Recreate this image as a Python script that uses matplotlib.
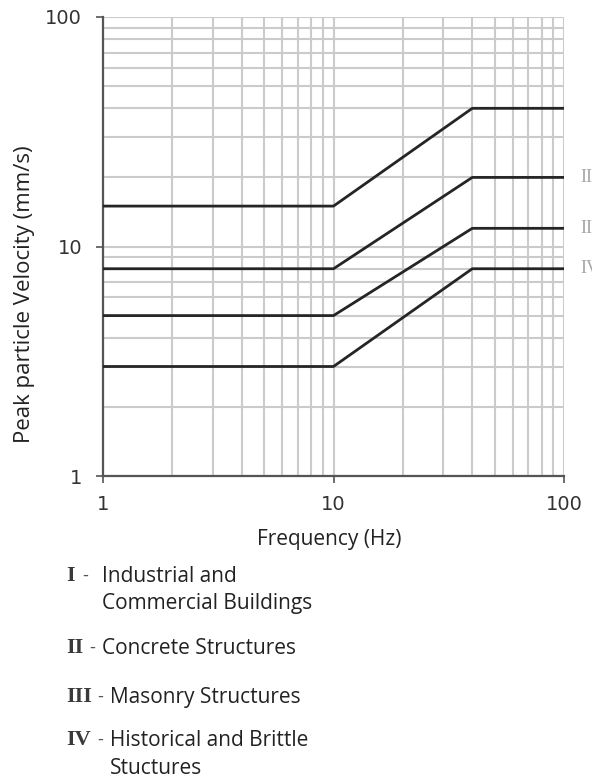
import numpy as np
from matplotlib import pyplot as plt
from matplotlib.ticker import LogLocator, NullFormatter, FixedLocator, FixedFormatter

W, H = 592, 782

# frequency break points (Hz) and velocity limits (mm/s) for each curve
freq = [1, 10, 40, 100]
v_I = [15, 15, 40, 40]
v_II = [8, 8, 20, 20]
v_III = [5, 5, 12, 12]
v_IV = [3, 3, 8, 8]
curves = [v_I, v_II, v_III, v_IV]

numerals = ["I", "II", "III", "IV"]
descriptions = [["Industrial and", "Commercial Buildings"],
                ["Concrete Structures"],
                ["Masonry Structures"],
                ["Historical and Brittle", "Stuctures"]]

fig = plt.figure(figsize=(W / 100, H / 100), dpi=100)
ax = fig.add_axes([103 / W, 1 - 476 / H, (564 - 103) / W, (476 - 17) / H])

for v in curves:
    ax.plot(freq, v, color="#252525", lw=2.0, solid_capstyle="butt", zorder=3)

ax.set_xscale("log")
ax.set_yscale("log")
ax.set_xlim(1, 100)
ax.set_ylim(1, 100)

ax.xaxis.set_minor_locator(LogLocator(base=10, subs=np.arange(2, 10)))
ax.yaxis.set_minor_locator(LogLocator(base=10, subs=np.arange(2, 10)))
ax.xaxis.set_minor_formatter(NullFormatter())
ax.yaxis.set_minor_formatter(NullFormatter())
ax.xaxis.set_major_locator(FixedLocator([1, 10, 100]))
ax.yaxis.set_major_locator(FixedLocator([1, 10, 100]))
ax.xaxis.set_major_formatter(FixedFormatter(["1", "10", "100"]))
ax.yaxis.set_major_formatter(FixedFormatter(["1", "10", "100"]))

ax.grid(True, which="both", color="#cbcbcb", lw=1.5)
ax.set_axisbelow(True)
ax.tick_params(which="minor", length=0)
ax.tick_params(which="major", length=5, width=1.2, color="#555555",
               labelsize=14, labelcolor="#333333")
ax.tick_params(axis="x", pad=9)
ax.tick_params(axis="y", pad=10)
for s in ["top", "right"]:
    ax.spines[s].set_visible(False)
for s in ["left", "bottom"]:
    ax.spines[s].set_color("#555555")
    ax.spines[s].set_linewidth(1.6)

ax.set_xlabel("Frequency (Hz)", fontsize=15, family="Open Sans", color="#222222")
ax.set_ylabel("Peak particle Velocity (mm/s)", fontsize=16, family="Open Sans", color="#222222")
ax.xaxis.label.set_va("center")
ax.yaxis.label.set_va("center")
ax.xaxis.set_label_coords(0.49, -(540 - 476) / 459)
ax.yaxis.set_label_coords((25 - 103) / 461, (476 - 294) / 459)

# curve labels on the right edge (cut off by the picture border, as in the source)
for num, v in zip(numerals[1:], curves[1:]):
    ax.annotate(num, xy=(100, v[-1]), xytext=(12, 0), textcoords="offset points",
                ha="left", va="center", fontsize=13, family="Liberation Serif",
                color="#a8a8a8", annotation_clip=False)

# legend text underneath
rows = [576, 648, 697, 740]
dash_x = [82, 89, 97, 97]
text_x = [102, 102, 110, 110]
for num, desc, y, xd, xt in zip(numerals, descriptions, rows, dash_x, text_x):
    fig.text(66 / W, 1 - y / H, num, fontsize=16, family="Liberation Serif",
             weight="bold", color="#3a3a3a", va="center", ha="left")
    fig.text(xd / W, 1 - y / H, "-", fontsize=13, family="Open Sans",
             color="#555555", va="center", ha="left")
    for k, line in enumerate(desc):
        fig.text(xt / W, 1 - (y + 28 * k) / H, line, fontsize=15, family="Open Sans",
                 color="#222222", va="center", ha="left")

fig.savefig("out.png", dpi=100)
